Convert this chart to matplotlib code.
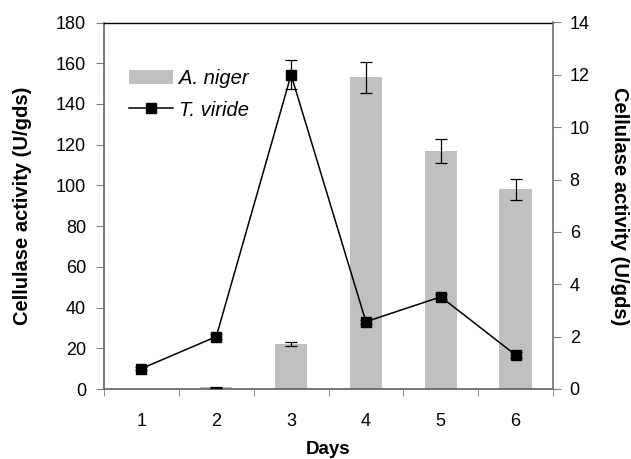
import matplotlib
matplotlib.use("Agg")
import matplotlib.pyplot as plt
import numpy as np

plt.rcParams['font.family'] = ['Liberation Sans', 'DejaVu Sans']

days = [1, 2, 3, 4, 5, 6]
niger = [0.0, 0.8, 22.0, 153.0, 117.0, 98.0]
niger_err = [0.0, 0.4, 1.0, 7.5, 6.0, 5.0]
viride = [0.78, 2.0, 12.0, 2.57, 3.52, 1.3]
viride_err = [0.05, 0.1, 0.55, 0.08, 0.1, 0.1]

fig = plt.figure(figsize=(6.31, 4.59), dpi=100)
ax = fig.add_axes([104/631, 1-389/459, (553-104)/631, (389-22.5)/459])
ax2 = ax.twinx()

x = np.array(days)
nv = np.array(niger)
ne = np.array(niger_err)
ax.bar(x, nv, width=0.43, color='#c0c0c0', label='A. niger', zorder=2)
m = ne > 0
ax.errorbar(x[m], nv[m], yerr=ne[m], fmt='none', ecolor='black', elinewidth=0.9,
            capsize=4, capthick=0.9, zorder=3)
ax.set_xlim(0.5, 6.5)
ax.set_ylim(0, 180)
ax.set_yticks(np.arange(0, 181, 20))
ax.set_xticks(x)
ax.set_xticks(np.arange(0.5, 6.6, 1), minor=True)
ax.tick_params(axis='x', which='major', length=0, pad=17, labelsize=13)
ax.tick_params(axis='x', which='minor', length=5, direction='out', color='#808080')
ax.tick_params(axis='y', length=6, direction='out', labelsize=13, color='#808080', pad=7)

ax2.plot(x, viride, color='black', marker='s', markersize=7, linewidth=1.1,
         label='T. viride', zorder=4)
ax2.errorbar(x, viride, yerr=viride_err, fmt='none', ecolor='black', elinewidth=0.9,
             capsize=4, capthick=0.9, zorder=3)
ax2.set_ylim(0, 14)
ax2.set_yticks(np.arange(0, 15, 2))
ax2.tick_params(axis='y', length=6, direction='out', labelsize=13, color='#808080', pad=6)

for s in ax.spines.values():
    s.set_linewidth(1.2)
ax.spines['left'].set_color('#606060')
ax.spines['bottom'].set_color('#606060')
ax.spines['top'].set_color('black')
ax.spines['top'].set_linewidth(1.0)
ax.spines['right'].set_visible(False)
for k in ('left', 'bottom', 'top'):
    ax2.spines[k].set_visible(False)
ax2.spines['right'].set_color('#707070')
ax2.spines['right'].set_linewidth(1.2)

ax.set_xlabel('Days', fontsize=13.5, fontweight='bold')
ax.xaxis.label.set_va('center')
ax.xaxis.set_label_coords(0.5, -(449 - 389) / 366.5)
ax.set_ylabel('Cellulase activity (U/gds)', fontsize=14.5, fontweight='bold')
ax.yaxis.label.set_va('center')
ax.yaxis.set_label_coords((23 - 104) / 449, 0.5)
ax2.set_ylabel('Cellulase activity (U/gds)', fontsize=14.5, fontweight='bold',
               rotation=270)
ax2.yaxis.label.set_va('center')
ax2.yaxis.set_label_coords((620 - 104) / 449, 0.5)

h1, l1 = ax.get_legend_handles_labels()
h2, l2 = ax2.get_legend_handles_labels()
leg = ax.legend(h1 + h2, l1 + l2, loc='upper left', bbox_to_anchor=(0.037, 0.895),
                frameon=False, fontsize=14.5, handlelength=2.2, labelspacing=0.62,
                handletextpad=0.3, borderaxespad=0)
for t in leg.get_texts():
    t.set_fontstyle('italic')

fig.savefig('out.png', dpi=100)
